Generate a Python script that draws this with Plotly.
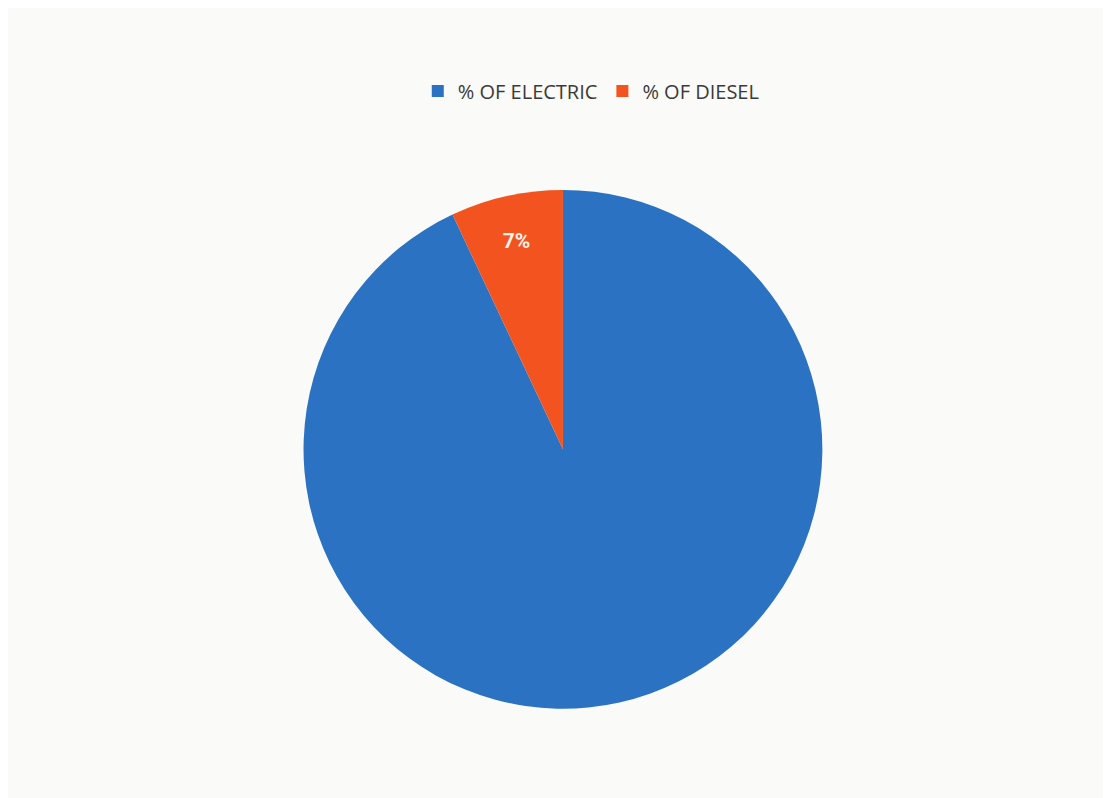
import plotly.graph_objects as go

labels = ["% OF ELECTRIC", "% OF DIESEL"]
values = [93, 7]
shown_text = ["", "<b>7%</b>"]
colors = ["#2B73C2", "#F2531F"]

fig = go.Figure(
    go.Pie(
        labels=labels,
        values=values,
        text=shown_text,
        textinfo="text",
        textposition="inside",
        insidetextorientation="horizontal",
        textfont=dict(family="Liberation Sans Narrow, Roboto", size=21, color="#FFF4EA"),
        marker=dict(colors=colors, line=dict(width=0)),
        sort=False,
        direction="clockwise",
        rotation=0,
        domain=dict(x=[0.266, 0.733], y=[0.121, 0.773]),
        hole=0,
    )
)

fig.update_layout(
    width=1111,
    height=798,
    margin=dict(l=0, r=0, t=0, b=0),
    paper_bgcolor="#FAFAF8",
    plot_bgcolor="#FAFAF8",
    showlegend=True,
    legend=dict(
        orientation="h",
        x=0.525,
        xanchor="center",
        y=0.896,
        yanchor="middle",
        font=dict(family="Open Sans, Liberation Sans, Arial", size=20, color="#3a3a3a"),
        itemwidth=30,
        bgcolor="rgba(0,0,0,0)",
    ),
)

fig.write_html("out.html")
